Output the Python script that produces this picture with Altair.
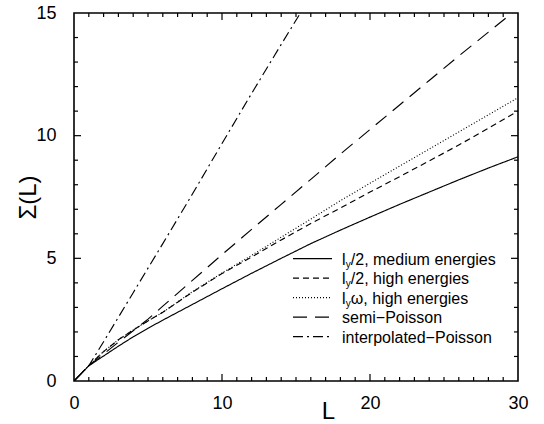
import altair as alt
import pandas as pd

# ---------------- data ----------------
series_names = [
    "ly2_medium",
    "ly2_high",
    "lyw_high",
    "semi_poisson",
    "interp_poisson",
]

L_grid = [0, 1, 2, 3, 4, 5, 6, 8, 10, 12, 14, 16, 18, 20, 22, 24, 26, 28, 30]
medium = [0, 0.62, 1.02, 1.42, 1.80, 2.15, 2.48, 3.12, 3.76, 4.39, 5.00, 5.60, 6.15, 6.68, 7.20, 7.70, 8.20, 8.68, 9.14]
high_half = [0, 0.63, 1.20, 1.68, 2.08, 2.45, 2.80, 3.62, 4.38, 5.05, 5.75, 6.42, 7.05, 7.70, 8.33, 8.97, 9.62, 10.30, 11.00]
high_omega = [0, 0.63, 1.20, 1.68, 2.08, 2.45, 2.80, 3.64, 4.40, 5.12, 5.86, 6.60, 7.35, 8.06, 8.76, 9.45, 10.15, 10.85, 11.55]

semi_L = [0, 1, 2, 3, 4, 5, 6, 8, 10, 12, 14, 16, 18, 20, 22, 24, 26, 28, 29.6]
semi = [0, 0.62, 1.10, 1.58, 2.05, 2.52, 3.05, 4.10, 5.15, 6.18, 7.20, 8.22, 9.25, 10.25, 11.25, 12.25, 13.25, 14.22, 15.0]

interp_L = [0, 1, 2, 3, 4, 5, 6, 8, 10, 12, 14, 15.3]
interp = [0, 0.62, 1.60, 2.60, 3.60, 4.60, 5.60, 7.62, 9.68, 11.72, 13.72, 15.0]

# legend text pieces: main letter, subscript, rest
legend_pre = ["l", "l", "l", "", ""]
legend_sub = ["y", "y", "y", "", ""]
legend_rest = ["/2, medium energies", "/2, high energies", "\u03c9, high energies",
               "semi\u2212Poisson", "interpolated\u2212Poisson"]

x_tick_values = [0, 10, 20, 30]
y_tick_values = [0, 5, 10, 15]
x_minor = [v for v in range(1, 30) if v % 10 != 0]
x_major = [10, 20]
y_minor = [v for v in range(1, 15) if v % 5 != 0]
y_major = [5, 10]

# ---------------- styles / layout ----------------
dashes = [[1, 0], [6, 4], [1, 2], [14, 8], [10, 4, 2, 4]]
W, H = 444, 368
FONT = "Liberation Sans"

frames = []
for name, xs_, ys_ in [
    ("ly2_medium", L_grid, medium),
    ("ly2_high", L_grid, high_half),
    ("lyw_high", L_grid, high_omega),
    ("semi_poisson", semi_L, semi),
    ("interp_poisson", interp_L, interp),
]:
    frames.append(pd.DataFrame({"L": xs_, "S": ys_, "series": name}))
lines_df = pd.concat(frames, ignore_index=True)

xs = alt.Scale(domain=[0, 30], nice=False, zero=False)
ys = alt.Scale(domain=[0, 15], nice=False, zero=False)
dash_scale = alt.Scale(domain=series_names, range=dashes)

x_axis = alt.Axis(values=x_tick_values, ticks=False, domain=False, grid=False,
                  labelFontSize=18, labelFont=FONT, labelColor="black",
                  labelPadding=13, labelFlush=False, format="d",
                  title="L", titleFontSize=24, titleFont=FONT, titleFontWeight="normal",
                  titleColor="black", titleX=254, titleY=37,
                  titleBaseline="alphabetic", titleAlign="center")
y_axis = alt.Axis(values=y_tick_values, ticks=False, domain=False, grid=False,
                  labelFontSize=18, labelFont=FONT, labelColor="black",
                  labelPadding=18, labelFlush=False, format="d",
                  title="\u03a3(L)", titleFontSize=24, titleFont=FONT,
                  titleFontWeight="normal", titleColor="black",
                  titleX=-39, titleY=H / 2, titleAngle=270,
                  titleBaseline="alphabetic", titleAlign="center")

X = lambda: alt.X("L:Q", scale=xs, axis=x_axis)
Y = lambda: alt.Y("S:Q", scale=ys, axis=y_axis)

lines = alt.Chart(lines_df).mark_line(color="black", strokeWidth=1.15, clip=True).encode(
    x=X(), y=Y(),
    strokeDash=alt.StrokeDash("series:N", scale=dash_scale, legend=None),
    detail="series:N",
)

# ---------------- inward ticks on all four sides ----------------
def xticks(vals, length):
    df = pd.DataFrame({"L": vals})
    base = alt.Chart(df).mark_rule(color="black", strokeWidth=1.2)
    bot = base.encode(x=X(), y=alt.value(H), y2=alt.value(H - length))
    top = base.encode(x=X(), y=alt.value(0), y2=alt.value(length))
    return [bot, top]


def yticks(vals, length):
    df = pd.DataFrame({"S": vals})
    base = alt.Chart(df).mark_rule(color="black", strokeWidth=1.2)
    left = base.encode(y=Y(), x=alt.value(0), x2=alt.value(length))
    right = base.encode(y=Y(), x=alt.value(W), x2=alt.value(W - length))
    return [left, right]


tick_layers = xticks(x_minor, 4) + xticks(x_major, 7) + yticks(y_minor, 4) + yticks(y_major, 7)

# ---------------- legend ----------------
leg_top, leg_step = 4.99, 0.795
leg_df = pd.DataFrame({
    "series": series_names,
    "S": [leg_top - i * leg_step for i in range(len(series_names))],
    "pre": legend_pre,
    "sub": legend_sub,
    "rest": legend_rest,
    "has_sub": [p != "" for p in legend_pre],
})

leg_lines = alt.Chart(leg_df).mark_rule(color="black", strokeWidth=1.3).encode(
    y=Y(),
    x=alt.value(219), x2=alt.value(258),
    strokeDash=alt.StrokeDash("series:N", scale=dash_scale, legend=None),
)

txt_kw = dict(font=FONT, color="black", align="left", baseline="alphabetic")
leg_pre = alt.Chart(leg_df).transform_filter("datum.has_sub").mark_text(fontSize=16, dy=6, **txt_kw).encode(
    y=Y(), x=alt.value(268), text="pre:N")
leg_sub = alt.Chart(leg_df).transform_filter("datum.has_sub").mark_text(fontSize=10, dy=9, **txt_kw).encode(
    y=Y(), x=alt.value(271.8), text="sub:N")
leg_rest1 = alt.Chart(leg_df).transform_filter("datum.has_sub").mark_text(fontSize=16, dy=6, **txt_kw).encode(
    y=Y(), x=alt.value(276.8), text="rest:N")
leg_rest2 = alt.Chart(leg_df).transform_filter("!datum.has_sub").mark_text(fontSize=16, dy=6, **txt_kw).encode(
    y=Y(), x=alt.value(268), text="rest:N")

chart = alt.layer(
    lines, *tick_layers, leg_lines, leg_pre, leg_sub, leg_rest1, leg_rest2
).properties(
    width=W, height=H,
    autosize=alt.AutoSizeParams(type="none"),
    padding={"left": 74, "top": 13, "right": 26, "bottom": 43},
    background="white",
).configure_view(
    stroke="black", strokeWidth=1.6, fill="white"
)

chart.save("out.html", embed_options={"renderer": "svg", "actions": False})
